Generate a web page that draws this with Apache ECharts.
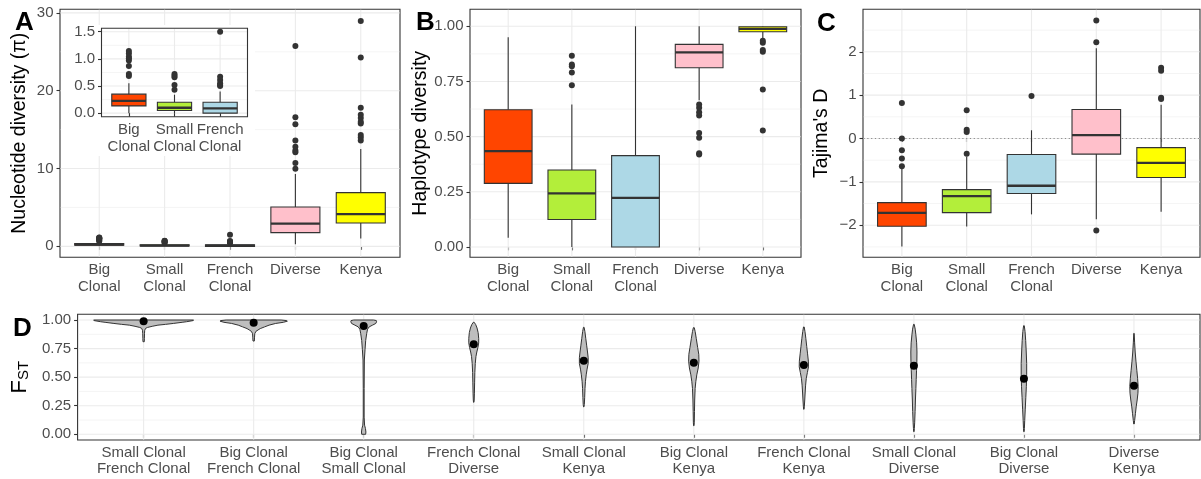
<!DOCTYPE html>
<html><head><meta charset="utf-8">
<script src="https://cdn.jsdelivr.net/npm/echarts@6/dist/echarts.min.js"></script>
<style>html,body{margin:0;padding:0;background:#fff}#c{width:1201px;height:479px}</style>
</head><body><div id="c"></div><script>
// ---------- data ----------
const groups = ['Big\nClonal', 'Small\nClonal', 'French\nClonal', 'Diverse', 'Kenya'];
const insetGroups = ['Big\nClonal', 'Small\nClonal', 'French\nClonal'];
const groupColors = ['#FF4500', '#B3EE3A', '#ADD8E6', '#FFC0CB', '#FFFF00'];

// [min whisker, Q1, median, Q3, max whisker]
const piStats = [
  [0.0, 0.134, 0.226, 0.35, 0.55],
  [0.0, 0.05, 0.10, 0.20, 0.34],
  [0.0, 0.0, 0.09, 0.20, 0.40],
  [0.26, 1.76, 2.92, 5.05, 9.3],
  [1.0, 3.0, 4.15, 6.9, 12.5]
];
const piOutliers = [
  [0.685, 0.72, 0.87, 0.97, 1.01, 1.04, 1.10, 1.145],
  [0.43, 0.52, 0.66, 0.69, 0.72],
  [0.5, 0.52, 0.55, 0.61, 0.67, 1.5],
  [9.98, 10.7, 12.1, 12.3, 12.8, 13.6, 15.7, 16.6, 25.75],
  [13.6, 14.0, 14.3, 15.8, 16.0, 16.5, 16.9, 17.8, 24.25, 28.96]
];
const hdStats = [
  [0.042, 0.288, 0.434, 0.622, 0.95],
  [0.0, 0.124, 0.243, 0.349, 0.646],
  [0.0, 0.0, 0.222, 0.414, 1.0],
  [0.665, 0.812, 0.882, 0.918, 1.0],
  [0.945, 0.975, 0.988, 0.998, 1.0]
];
const hdOutliers = [
  [],
  [0.733, 0.79, 0.819, 0.827, 0.866],
  [],
  [0.419, 0.425, 0.495, 0.516, 0.596, 0.61, 0.631, 0.646],
  [0.528, 0.713, 0.885, 0.892, 0.925, 0.935]
];
const tdStats = [
  [-2.49, -2.025, -1.717, -1.478, -0.7],
  [-2.03, -1.71, -1.33, -1.18, -0.42],
  [-1.75, -1.27, -1.09, -0.37, 0.19],
  [-1.86, -0.36, 0.08, 0.67, 2.08],
  [-1.69, -0.9, -0.56, -0.21, 0.78]
];
const tdOutliers = [
  [0.82, 0.0, -0.27, -0.46, -0.64],
  [0.65, 0.2, 0.15, -0.35],
  [0.98],
  [2.72, 2.22, -2.12],
  [1.63, 1.56, 0.94, 0.91]
];

const fstPairs = ['Small Clonal\nFrench Clonal', 'Big Clonal\nFrench Clonal', 'Big Clonal\nSmall Clonal',
  'French Clonal\nDiverse', 'Small Clonal\nKenya', 'Big Clonal\nKenya', 'French Clonal\nKenya',
  'Small Clonal\nDiverse', 'Big Clonal\nDiverse', 'Diverse\nKenya'];
const fstMeans = [0.99, 0.977, 0.948, 0.787, 0.644, 0.626, 0.606, 0.60, 0.486, 0.425];
// violin outlines: [Fst, half width (category units)]
const fstViolins = [
  [[1.0,0.455],[0.995,0.45],[0.985,0.39],[0.98,0.35],[0.97,0.27],[0.962,0.2],[0.955,0.13],[0.945,0.078],[0.935,0.035],[0.927,0.018],[0.91,0.01],[0.88,0.008],[0.84,0.007],[0.81,0.006]],
  [[1.0,0.25],[0.995,0.30],[0.99,0.306],[0.98,0.27],[0.97,0.2],[0.955,0.14],[0.94,0.1],[0.925,0.06],[0.913,0.04],[0.9,0.02],[0.88,0.01],[0.85,0.008],[0.816,0.006]],
  [[1.0,0.09],[0.995,0.115],[0.985,0.117],[0.97,0.11],[0.955,0.08],[0.94,0.05],[0.92,0.035],[0.88,0.027],[0.82,0.018],[0.74,0.012],[0.65,0.006],[0.4,0.004],[0.15,0.004],[0.08,0.008],[0.05,0.016],[0.02,0.02],[0.0,0.018]],
  [[0.98,0.004],[0.96,0.018],[0.93,0.03],[0.89,0.04],[0.84,0.045],[0.8,0.045],[0.76,0.038],[0.72,0.028],[0.68,0.02],[0.62,0.014],[0.54,0.01],[0.45,0.008],[0.36,0.006],[0.3,0.004],[0.28,0.002]],
  [[0.936,0.003],[0.9,0.01],[0.84,0.018],[0.78,0.026],[0.72,0.034],[0.67,0.04],[0.62,0.04],[0.57,0.03],[0.52,0.022],[0.46,0.015],[0.4,0.011],[0.32,0.008],[0.26,0.005],[0.24,0.002]],
  [[0.933,0.004],[0.9,0.012],[0.84,0.022],[0.76,0.035],[0.7,0.045],[0.64,0.047],[0.58,0.04],[0.52,0.027],[0.46,0.018],[0.4,0.012],[0.3,0.008],[0.2,0.006],[0.1,0.004],[0.075,0.002]],
  [[0.939,0.003],[0.9,0.01],[0.84,0.018],[0.77,0.026],[0.71,0.033],[0.64,0.041],[0.59,0.042],[0.54,0.032],[0.49,0.022],[0.43,0.016],[0.37,0.012],[0.3,0.008],[0.24,0.004],[0.219,0.002]],
  [[0.962,0.003],[0.92,0.012],[0.87,0.018],[0.8,0.025],[0.72,0.028],[0.64,0.027],[0.56,0.024],[0.48,0.021],[0.4,0.018],[0.3,0.014],[0.2,0.011],[0.1,0.007],[0.05,0.004],[0.023,0.002]],
  [[0.95,0.003],[0.9,0.01],[0.82,0.016],[0.72,0.021],[0.62,0.025],[0.52,0.025],[0.42,0.022],[0.32,0.017],[0.22,0.012],[0.12,0.007],[0.05,0.004],[0.023,0.002]],
  [[0.883,0.002],[0.8,0.006],[0.72,0.011],[0.64,0.018],[0.56,0.026],[0.49,0.033],[0.42,0.038],[0.36,0.036],[0.3,0.029],[0.24,0.02],[0.18,0.013],[0.12,0.006],[0.09,0.002]]
];

// tick values
const piTicks = [0, 10, 20, 30], piMinor = [5, 15, 25];
const insetTicks = [0, 0.5, 1.0, 1.5], insetMinor = [0.25, 0.75, 1.25];
const hdTicks = [0, 0.25, 0.5, 0.75, 1.0], hdMinor = [0.125, 0.375, 0.625, 0.875];
const tdTicks = [-2, -1, 0, 1, 2], tdMinor = [-2.5, -1.5, -0.5, 0.5, 1.5, 2.5];
const fstTicks = [0, 0.25, 0.5, 0.75, 1.0], fstMinor = [0.125, 0.375, 0.625, 0.875];
const tdRefLine = [0];

// ---------- styling ----------
const FONT = "'Liberation Sans', Arial, Helvetica, sans-serif";
const TICKC = '#4D4D4D';
const DARK = '#333333';
const GRIDC = '#EBEBEB';

function gridLines(ax, major, minor, nCats, refs, z) {
  const data = [];
  major.forEach(v => data.push([1, v, 0]));
  minor.forEach(v => data.push([1, v, 1]));
  for (let i = 1; i <= nCats; i++) data.push([i, 0, 2]);
  (refs || []).forEach(v => data.push([1, v, 3]));
  return {
    type: 'custom', xAxisIndex: ax, yAxisIndex: ax, z: z, silent: true, animation: false,
    data: data,
    renderItem(params, api) {
      const cs = params.coordSys;
      const kind = api.value(2);
      if (kind === 2) {
        const x = api.coord([api.value(0), 0])[0];
        return {type: 'line', shape: {x1: x, y1: cs.y + 0.5, x2: x, y2: cs.y + cs.height - 0.5},
          style: {stroke: GRIDC, lineWidth: 1.1}};
      }
      const y = api.coord([1, api.value(1)])[1];
      if (kind === 3) {
        return {type: 'line', shape: {x1: cs.x + 0.5, y1: y, x2: cs.x + cs.width - 0.5, y2: y},
          style: {stroke: '#8c8c8c', lineWidth: 1.1, lineDash: [1.2, 2.6]}};
      }
      return {type: 'line', shape: {x1: cs.x + 0.5, y1: y, x2: cs.x + cs.width - 0.5, y2: y},
        style: {stroke: GRIDC, lineWidth: kind === 0 ? 1.1 : 0.55}};
    }
  };
}

function boxes(ax, stats, z) {
  return {
    type: 'custom', xAxisIndex: ax, yAxisIndex: ax, z: z, animation: false,
    data: stats.map((s, i) => [i + 1].concat(s)),
    encode: {x: 0, y: [1, 2, 3, 4, 5]},
    renderItem(params, api) {
      const x = api.value(0);
      const mn = api.coord([x, api.value(1)]);
      const q1 = api.coord([x, api.value(2)]);
      const md = api.coord([x, api.value(3)]);
      const q3 = api.coord([x, api.value(4)]);
      const mx = api.coord([x, api.value(5)]);
      const w = api.size([0.75, 0])[0];
      const cx = mn[0];
      return {type: 'group', children: [
        {type: 'line', shape: {x1: cx, y1: q3[1], x2: cx, y2: mx[1]}, style: {stroke: DARK, lineWidth: 1.1}},
        {type: 'line', shape: {x1: cx, y1: q1[1], x2: cx, y2: mn[1]}, style: {stroke: DARK, lineWidth: 1.1}},
        {type: 'rect', shape: {x: cx - w / 2, y: q3[1], width: w, height: q1[1] - q3[1]},
          style: {fill: groupColors[params.dataIndex], stroke: DARK, lineWidth: 1.1}},
        {type: 'line', shape: {x1: cx - w / 2, y1: md[1], x2: cx + w / 2, y2: md[1]}, style: {stroke: DARK, lineWidth: 2.3}}
      ]};
    }
  };
}

function outliers(ax, outs, z, nGroups) {
  const data = [];
  outs.slice(0, nGroups).forEach((arr, i) => arr.forEach(v => data.push([i + 1, v])));
  return {type: 'scatter', xAxisIndex: ax, yAxisIndex: ax, z: z, animation: false, silent: true,
    symbol: 'circle', symbolSize: 6, itemStyle: {color: DARK, opacity: 1}, data: data};
}

function yAx(gi, min, max, ticks, fmt, name, gap, z) {
  return {
    type: 'value', gridIndex: gi, min: min, max: max, z: z || 0,
    axisLine: {show: false}, splitLine: {show: false}, minorSplitLine: {show: false},
    axisTick: {show: true, customValues: ticks, length: 3.5, lineStyle: {color: DARK, width: 1.1}},
    axisLabel: {customValues: ticks, formatter: fmt, color: TICKC, fontSize: 15, fontFamily: FONT, margin: 6.5},
    name: name || '', nameLocation: 'middle', nameGap: gap || 0, nameRotate: 90,
    nameTextStyle: {color: '#000', fontSize: 19.5, fontFamily: FONT}
  };
}
function xAx(gi, labels, lh, z) {
  const vals = labels.map((_, i) => i + 1);
  return {
    type: 'value', gridIndex: gi, min: 0.4, max: labels.length + 0.6, z: z || 0,
    axisLine: {show: false}, splitLine: {show: false}, minorSplitLine: {show: false},
    axisTick: {show: true, customValues: vals, length: 3.5, lineStyle: {color: DARK, width: 1.1}},
    axisLabel: {customValues: vals, formatter: v => labels[Math.round(v) - 1], color: TICKC,
      fontSize: 15, fontFamily: FONT, lineHeight: lh, margin: 4.5}
  };
}
const gridBase = {show: true, borderColor: DARK, borderWidth: 1.1, backgroundColor: 'transparent', containLabel: false};
const minus = v => (v < 0 ? '\u2212' + Math.abs(v) : String(v));

const chart = echarts.init(document.getElementById('c'), null, {renderer: 'canvas'});
chart.setOption({
  animation: false,
  backgroundColor: '#fff',
  grid: [
    Object.assign({left: 60, top: 9.3, width: 340, height: 248}, gridBase),
    Object.assign({left: 101.5, top: 28.3, width: 146, height: 88.4, z: 10}, gridBase),
    Object.assign({left: 470, top: 9.3, width: 331, height: 248}, gridBase),
    Object.assign({left: 863, top: 9.3, width: 337, height: 248}, gridBase),
    Object.assign({left: 72, top: 314.3, width: 1128, height: 125.7}, gridBase)
  ],
  xAxis: [
    xAx(0, groups, 17),
    xAx(1, insetGroups, 17, 10),
    xAx(2, groups, 17),
    xAx(3, groups, 17),
    xAx(4, fstPairs, 16.5)
  ],
  yAxis: [
    yAx(0, -1.41, 30.46, piTicks, v => String(v), 'Nucleotide diversity (\u03c0)', 30),
    yAx(1, -0.065, 1.563, insetTicks, v => v.toFixed(1), '', 0, 10),
    yAx(2, -0.047, 1.077, hdTicks, v => v.toFixed(2), 'Haplotype diversity', 38),
    yAx(3, -2.74, 2.98, tdTicks, minus, "Tajima's D", 31),
    Object.assign(yAx(4, -0.05, 1.05, fstTicks, v => v.toFixed(2), '{f|F}{s|ST}', 46), {
      nameTextStyle: {color: '#000', fontFamily: FONT, rich: {
        f: {fontSize: 22, fontFamily: FONT, color: '#000', lineHeight: 26, verticalAlign: 'bottom'},
        s: {fontSize: 15, fontFamily: FONT, color: '#000', lineHeight: 26, verticalAlign: 'bottom', padding: [8, 0, 0, 0]}
      }}
    })
  ],
  graphic: [
    {type: 'rect', shape: {x: 61, y: 25, width: 194, height: 131}, style: {fill: '#fff'}, z: 5, silent: true},
    {type: 'text', x: 15, y: 23, z: 20, style: {text: 'A', font: 'bold 26px ' + FONT, fill: '#000', verticalAlign: 'middle'}},
    {type: 'text', x: 416, y: 23, z: 20, style: {text: 'B', font: 'bold 26px ' + FONT, fill: '#000', verticalAlign: 'middle'}},
    {type: 'text', x: 817, y: 24, z: 20, style: {text: 'C', font: 'bold 26px ' + FONT, fill: '#000', verticalAlign: 'middle'}},
    {type: 'text', x: 13, y: 329, z: 20, style: {text: 'D', font: 'bold 26px ' + FONT, fill: '#000', verticalAlign: 'middle'}}
  ],
  series: [
    gridLines(0, piTicks, piMinor, 5, null, 1),
    boxes(0, piStats, 2),
    outliers(0, piOutliers, 3, 5),

    gridLines(1, insetTicks, insetMinor, 3, null, 8),
    boxes(1, piStats.slice(0, 3), 11),
    outliers(1, piOutliers, 12, 3),

    gridLines(2, hdTicks, hdMinor, 5, null, 1),
    boxes(2, hdStats, 2),
    outliers(2, hdOutliers, 3, 5),

    gridLines(3, tdTicks, tdMinor, 5, tdRefLine, 1),
    boxes(3, tdStats, 2),
    outliers(3, tdOutliers, 3, 5),

    gridLines(4, fstTicks, fstMinor, 10, null, 1),
    {
      type: 'custom', xAxisIndex: 4, yAxisIndex: 4, z: 2, animation: false,
      data: fstViolins.map((p, i) => [i + 1, p[0][0], p[p.length - 1][0]]),
      encode: {x: 0, y: [1, 2]},
      renderItem(params, api) {
        const x = api.value(0);
        const prof = fstViolins[params.dataIndex];
        const pts = [];
        prof.forEach(p => pts.push(api.coord([x + p[1], p[0]])));
        for (let k = prof.length - 1; k >= 0; k--) pts.push(api.coord([x - prof[k][1], prof[k][0]]));
        return {type: 'polygon', shape: {points: pts}, style: {fill: '#BEBEBE', stroke: DARK, lineWidth: 1}};
      }
    },
    {type: 'scatter', xAxisIndex: 4, yAxisIndex: 4, z: 3, animation: false, silent: true,
      symbol: 'circle', symbolSize: 8, itemStyle: {color: '#000', opacity: 1},
      data: fstMeans.map((m, i) => [i + 1, m])}
  ]
});
</script></body></html>
